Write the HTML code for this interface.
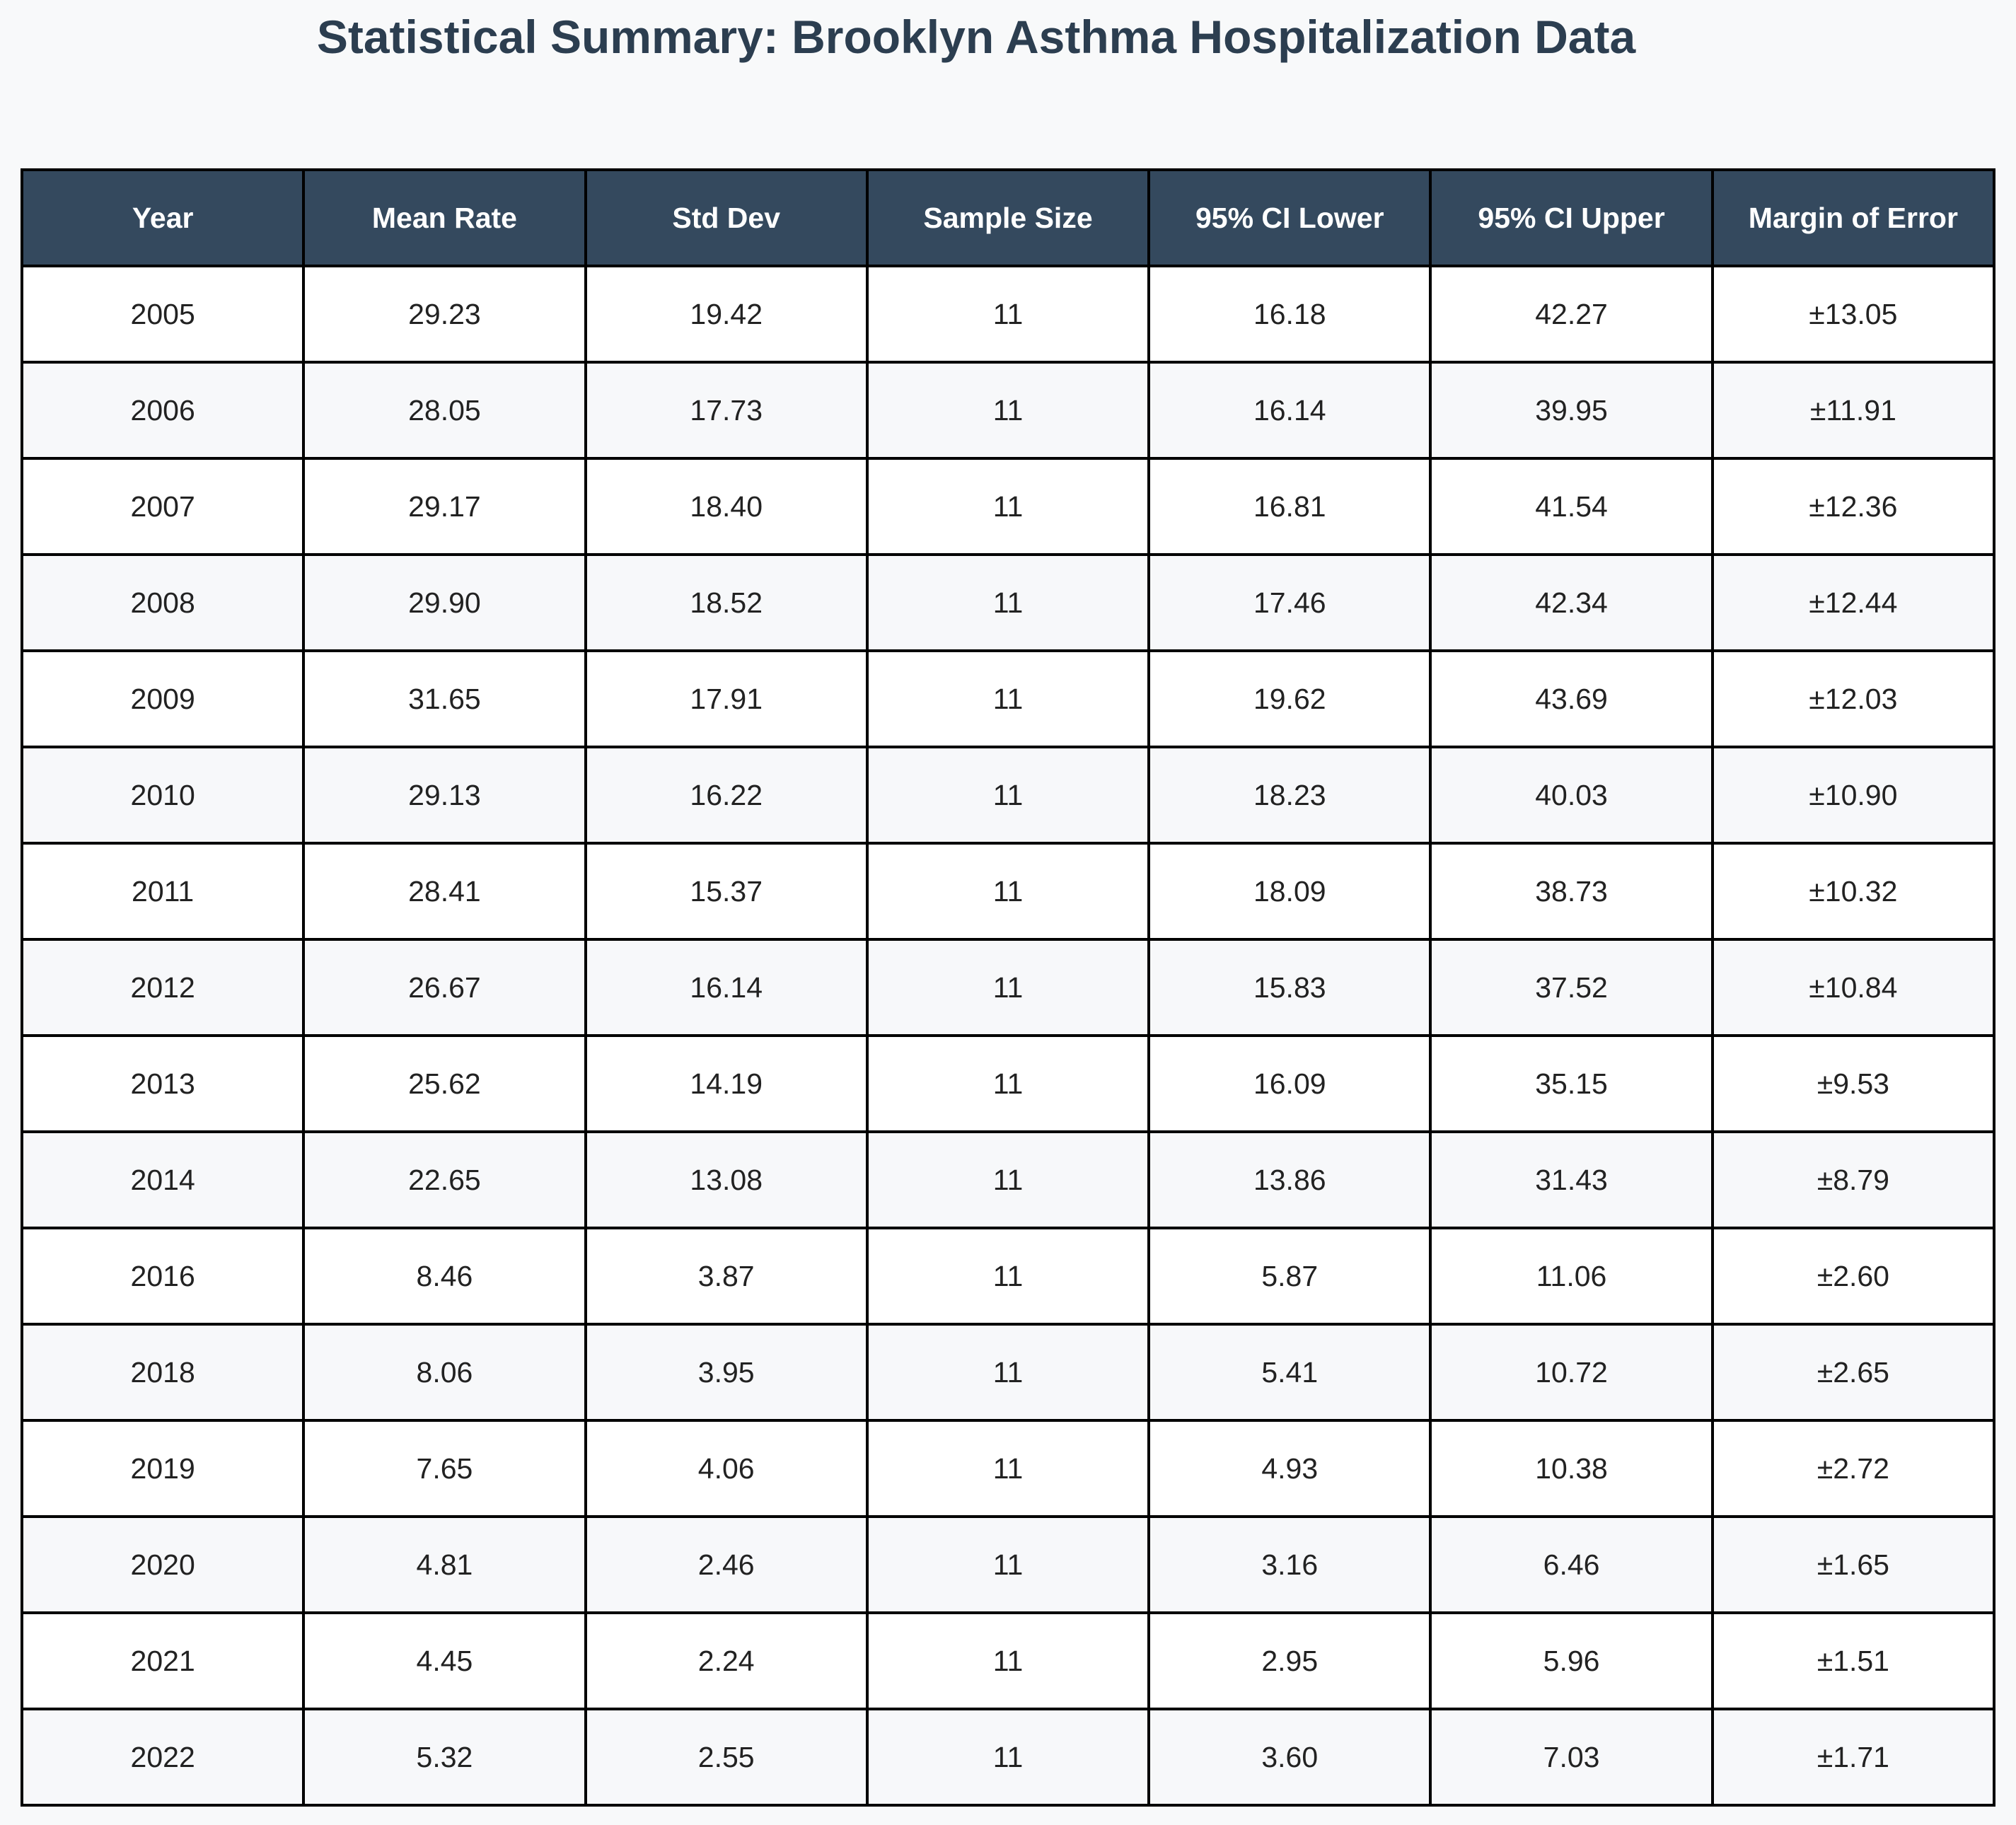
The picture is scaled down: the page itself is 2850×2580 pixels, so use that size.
<!DOCTYPE html>
<html><head><meta charset="utf-8"><style>
body{margin:0;width:2850px;height:2580px;background:#f8f9fa;font-family:"Liberation Sans",sans-serif;position:relative;overflow:hidden}
h1{position:absolute;top:0;left:-45px;width:2850px;margin:0;text-align:center;font-size:66px;line-height:104px;color:#2c3e50;font-weight:bold}
table{position:absolute;left:29px;top:238px;width:2792px;border-collapse:collapse;table-layout:fixed}
td,th{border:4px solid #000;text-align:center;height:132px;font-size:41px;color:#222;padding:0}
th{background:#34495e;color:#fff;font-weight:bold;font-size:41px}
tr:nth-child(odd) td{background:#fff}
tr:nth-child(even) td{background:#f7f8fa}
</style></head><body>
<h1>Statistical Summary: Brooklyn Asthma Hospitalization Data</h1>
<table>
<thead><tr><th>Year</th><th>Mean Rate</th><th>Std Dev</th><th>Sample Size</th><th>95% CI Lower</th><th>95% CI Upper</th><th>Margin of Error</th></tr></thead>
<tbody id="tb"></tbody></table>
<script>
const years=["2005","2006","2007","2008","2009","2010","2011","2012","2013","2014","2016","2018","2019","2020","2021","2022"];
const means=["29.23","28.05","29.17","29.90","31.65","29.13","28.41","26.67","25.62","22.65","8.46","8.06","7.65","4.81","4.45","5.32"];
const sds=["19.42","17.73","18.40","18.52","17.91","16.22","15.37","16.14","14.19","13.08","3.87","3.95","4.06","2.46","2.24","2.55"];
const ns=["11","11","11","11","11","11","11","11","11","11","11","11","11","11","11","11"];
const lows=["16.18","16.14","16.81","17.46","19.62","18.23","18.09","15.83","16.09","13.86","5.87","5.41","4.93","3.16","2.95","3.60"];
const ups=["42.27","39.95","41.54","42.34","43.69","40.03","38.73","37.52","35.15","31.43","11.06","10.72","10.38","6.46","5.96","7.03"];
const moes=["±13.05","±11.91","±12.36","±12.44","±12.03","±10.90","±10.32","±10.84","±9.53","±8.79","±2.60","±2.65","±2.72","±1.65","±1.51","±1.71"];
const tb=document.getElementById('tb');
years.forEach((y,i)=>{
 const tr=document.createElement('tr');
 
 
 [y,means[i],sds[i],ns[i],lows[i],ups[i],moes[i]].forEach(v=>{
  const td=document.createElement('td');
  
  
  td.textContent=v;tr.appendChild(td);
 });
 tb.appendChild(tr);
});
</script>
</body></html>
